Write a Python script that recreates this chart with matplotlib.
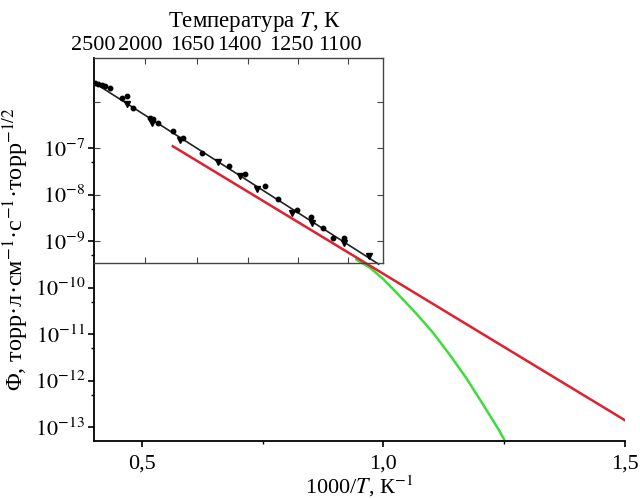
import numpy as np
import matplotlib
matplotlib.use("Agg")
import matplotlib.pyplot as plt
from matplotlib.ticker import FixedLocator, FixedFormatter, NullLocator, NullFormatter

plt.rcParams['font.family'] = ['Liberation Serif', 'DejaVu Serif']
plt.rcParams['mathtext.fontset'] = 'stix'

# ---------------- data ----------------
# experimental points (1000/T, flux)
pts_circ_x = [0.403, 0.409, 0.417, 0.424, 0.434, 0.459, 0.469, 0.481, 0.517, 0.523,
              0.533, 0.564, 0.585, 0.624, 0.680, 0.713, 0.754, 0.781, 0.820, 0.849,
              0.874, 0.895, 0.919]
pts_circ_y = [2.5e-6, 2.4e-6, 2.24e-6, 2.14e-6, 1.95e-6, 1.2e-6, 1.32e-6, 7.2e-7, 4.5e-7, 4.2e-7,
              3.5e-7, 2.35e-7, 1.66e-7, 7.8e-8, 4.1e-8, 2.75e-8, 1.5e-8, 7.9e-9, 4.7e-9, 3.3e-9,
              1.9e-9, 1.15e-9, 1.15e-9]
pts_tri_x = [0.469, 0.521, 0.579, 0.657, 0.702, 0.738, 0.810, 0.853, 0.919, 0.971]
pts_tri_y = [8.9e-7, 3.5e-7, 1.48e-7, 5.0e-8, 2.5e-8, 1.32e-8, 4.0e-9, 2.45e-9, 9.1e-10, 4.8e-10]

# fitted line through points
fit_x = [0.40, 0.99]
fit_y = [2.6e-6, 3.2e-10]

# red line
red_x = [0.564, 1.50]
red_y = [1.1e-7, 1.4e-13]

# green curve
green_x = [0.944, 0.971, 0.999, 1.033, 1.068, 1.102, 1.136, 1.171, 1.205, 1.240, 1.251]
green_y = [4.0e-10, 2.73e-10, 1.55e-10, 6.7e-11, 2.76e-11, 1.09e-11, 3.74e-12, 1.15e-12,
           3.2e-13, 8.3e-14, 5.1e-14]

# axes ticks
x_ticks = [0.5, 1.0, 1.5]
x_ticklabels = ['0,5', '1,0', '1,5']
x_minor = [0.75, 1.25]
y_exps = [-13, -12, -11, -10, -9, -8, -7]

# temperature scale (top of the inset) as printed
temps = ['2500', '2000', '1650', '1400', '1250', '1100']
temp_label_pos = [0.400, 0.497, 0.605, 0.702, 0.810, 0.909]
temp_tick_pos = [0.506, 0.614, 0.719, 0.823, 0.926]

# ---------------- figure ----------------
fig = plt.figure(figsize=(6.4, 4.99), dpi=100)
ax = fig.add_axes([0.1463, 0.1162, 0.8303, 0.7676])
ax.set_yscale('log')
ax.set_xlim(0.4, 1.5)
ax.set_ylim(10 ** -13.3, 10 ** -5.06)

for s in ['top', 'right']:
    ax.spines[s].set_visible(False)
for s in ['left', 'bottom']:
    ax.spines[s].set_linewidth(1.3)

ax.xaxis.set_major_locator(FixedLocator(x_ticks))
ax.xaxis.set_major_formatter(FixedFormatter(x_ticklabels))
ax.xaxis.set_minor_locator(FixedLocator(x_minor))
ax.yaxis.set_major_locator(FixedLocator([10.0 ** e for e in y_exps]))
ax.yaxis.set_major_formatter(FixedFormatter([r'$10^{%d}$' % e for e in y_exps]))
ax.yaxis.set_minor_locator(FixedLocator([5 * 10.0 ** (e - 1) for e in y_exps]))
ax.yaxis.set_minor_formatter(NullFormatter())
ax.tick_params(axis='both', which='major', direction='out', length=4, width=1.2,
               labelsize=16, pad=2)
ax.tick_params(axis='both', which='minor', direction='out', length=2.5, width=1.0)
ax.tick_params(axis='x', which='major', pad=6)

ax.set_xlabel(r'1000/$T$, К$^{-1}$', fontsize=16, labelpad=0)
ax.set_ylabel(r'Φ, торр·л·см$^{-1}$·с$^{-1}$·торр$^{-1/2}$', fontsize=17.5, labelpad=3)

# curves
ax.plot(green_x, green_y, color='#3ddc3d', lw=1.8, zorder=2, solid_joinstyle='round')
ax.plot(red_x, red_y, color='#e0202e', lw=1.8, zorder=3)
ax.plot(fit_x, fit_y, color='#222222', lw=1.2, zorder=4)
ax.plot(pts_circ_x, pts_circ_y, 'o', color='black', ms=3.2, zorder=5)
ax.plot(pts_tri_x, pts_tri_y, 'v', color='black', ms=4.0, zorder=5)

# ---------------- inset frame with temperature axis ----------------
in_top = 10 ** -5.06
in_bot = 10 ** -9.47
ax_in = ax.inset_axes([0.4, in_bot, 0.6, in_top - in_bot], transform=ax.transData)
ax_in.set_facecolor('none')
ax_in.set_yscale('log')
ax_in.set_xlim(0.4, 1.0)
ax_in.set_ylim(in_bot, in_top)
for s in ax_in.spines.values():
    s.set_linewidth(1.0)
    s.set_color('#444444')
ax_in.spines['left'].set_visible(False)

ax_in.xaxis.set_major_locator(FixedLocator(temp_label_pos))
ax_in.xaxis.set_major_formatter(FixedFormatter(temps))
ax_in.xaxis.set_minor_locator(FixedLocator(temp_tick_pos))
ax_in.tick_params(axis='x', which='major', top=True, bottom=False,
                  labeltop=True, labelbottom=False, length=0,
                  labelsize=16, pad=2)
ax_in.tick_params(axis='x', which='minor', direction='in', top=True, bottom=True,
                  length=4, width=0.8, color='#444444')
ax_in.yaxis.set_major_locator(FixedLocator([1e-9, 1e-8, 1e-7, 1e-6]))
ax_in.yaxis.set_minor_locator(NullLocator())
ax_in.tick_params(axis='y', which='major', direction='in', left=True, right=True,
                  labelleft=False, labelright=False, length=4, width=0.8,
                  color='#444444')

fig.text(254 / 640, 1 - 22 / 499, r'Температура $T$, К', fontsize=16.5,
         ha='center', va='center')

fig.savefig('out.png', dpi=100)
